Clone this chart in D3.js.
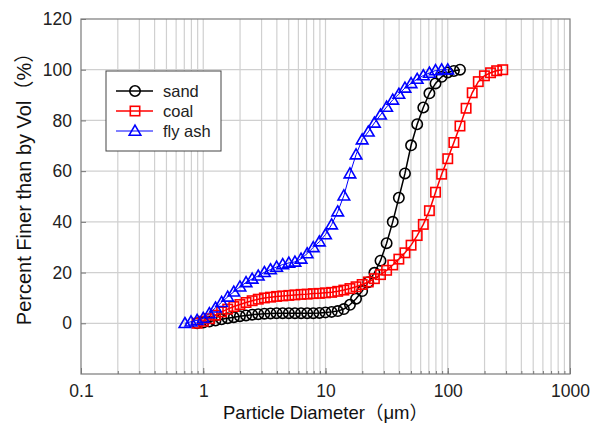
<!DOCTYPE html>
<html>
<head>
<meta charset="utf-8">
<script src="https://cdn.jsdelivr.net/npm/d3@7"></script>
<style>
  html, body { margin: 0; padding: 0; background: #fff; }
  svg { display: block; font-family: "Liberation Sans", Arial, "Noto Sans CJK SC", sans-serif; }
</style>
</head>
<body>
<div id="chart"></div>
<script>
// particle size distributions (cumulative % finer by volume)

const sandSize = [0.891, 1.000, 1.122, 1.259, 1.413, 1.585, 1.778, 1.995, 2.239, 2.512,
  2.818, 3.162, 3.548, 3.981, 4.467, 5.012, 5.623, 6.310, 7.079, 7.943,
  8.913, 10.00, 11.22, 12.59, 14.13, 15.85, 17.78, 19.95, 22.39, 25.12,
  28.18, 31.62, 35.48, 39.81, 44.67, 50.12, 56.23, 63.10, 70.79, 79.43,
  89.13, 100.0, 112.2, 125.9];
const sandPct = [0, 0.3, 0.7, 1.1, 1.6, 2.0, 2.4, 2.8, 3.1, 3.4,
  3.6, 3.8, 3.9, 4.0, 4.0, 4.0, 4.0, 4.0, 4.0, 4.0,
  4.1, 4.3, 4.5, 4.8, 5.6, 7.3, 9.7, 12.7, 16.2, 19.9,
  24.7, 31.6, 40.0, 49.5, 59.1, 70.2, 78.5, 85.1, 90.7, 94.6,
  97.2, 98.9, 99.5, 100];

const coalSize = [0.891, 1.000, 1.122, 1.259, 1.413, 1.585, 1.778, 1.995, 2.239, 2.512,
  2.818, 3.162, 3.548, 3.981, 4.467, 5.012, 5.623, 6.310, 7.079, 7.943,
  8.913, 10.00, 11.22, 12.59, 14.13, 15.85, 17.78, 19.95, 22.39, 25.12,
  28.18, 31.62, 35.48, 39.81, 44.67, 50.12, 56.23, 63.10, 70.79, 79.43,
  89.13, 100.0, 112.2, 125.9, 141.3, 158.5, 177.8, 199.5, 223.9, 251.2,
  281.8];
const coalPct = [0, 0.8, 1.8, 3.2, 4.5, 5.6, 6.6, 7.4, 8.2, 8.9,
  9.5, 10.0, 10.3, 10.6, 10.8, 11.0, 11.2, 11.4, 11.5, 11.7,
  11.8, 12.0, 12.2, 12.6, 13.1, 13.7, 14.4, 15.3, 16.3, 17.6,
  19.2, 20.9, 23.0, 25.3, 27.8, 30.8, 34.6, 39.0, 44.4, 51.7,
  58.8, 64.9, 71.3, 77.8, 84.8, 90.9, 95.3, 97.6, 98.8, 99.6,
  100];

const flySize = [0.708, 0.794, 0.891, 1.000, 1.122, 1.259, 1.413, 1.585, 1.778, 1.995,
  2.239, 2.512, 2.818, 3.162, 3.548, 3.981, 4.467, 5.012, 5.623, 6.310,
  7.079, 7.943, 8.913, 10.00, 11.22, 12.59, 14.13, 15.85, 17.78, 19.95,
  22.39, 25.12, 28.18, 31.62, 35.48, 39.81, 44.67, 50.12, 56.23, 63.10,
  70.79, 79.43, 89.13, 100.0];
const flyPct = [0.0, 0.6, 1.2, 2.0, 3.9, 6.1, 8.3, 10.4, 12.4, 14.4,
  16.1, 17.5, 18.7, 20.1, 21.2, 22.2, 23.2, 23.8, 24.2, 25.4,
  27.5, 29.9, 32.2, 35.0, 38.9, 44.0, 50.3, 59.0, 66.5, 72.4,
  75.5, 79.0, 82.2, 85.3, 88.1, 90.4, 92.8, 94.6, 96.3, 97.7,
  98.7, 99.7, 100, 100];

const xTicks = [0.1, 1, 10, 100, 1000];
const yTicks = [0, 20, 40, 60, 80, 100, 120];

const series = [
  { name: "sand", size: sandSize, pct: sandPct, color: "#000000", marker: "circle", lw: 1.5 },
  { name: "coal", size: coalSize, pct: coalPct, color: "#ff0000", marker: "square", lw: 1.5 },
  { name: "fly ash", size: flySize, pct: flyPct, color: "#0000ff", marker: "triangle", lw: 1 }
];

// setup dimensions
const width = 592;
const height = 430;
const margin = { top: 19, right: 22, bottom: 56, left: 81 };
const chartWidth = width - margin.left - margin.right;
const chartHeight = height - margin.top - margin.bottom;

const svg = d3.select("#chart").append("svg")
  .attr("width", width)
  .attr("height", height);

const chartG = svg.append("g")
  .attr("transform", `translate(${margin.left},${margin.top})`);

const x = d3.scaleLog().domain([0.1, 1000]).range([0, chartWidth]);
const y = d3.scaleLinear().domain([-20, 120]).range([chartHeight, 0]);

// minor decade values for the grid
const minorVals = [];
[0.1, 1, 10, 100].forEach(dec => {
  for (let k = 1; k < 10; k++) minorVals.push(dec * k);
});
minorVals.push(1000);

// gridlines
chartG.append("g").selectAll("line.vgrid")
  .data(minorVals.filter(v => v > 0.1 && v < 1000))
  .join("line")
  .attr("x1", d => x(d)).attr("x2", d => x(d))
  .attr("y1", 0).attr("y2", chartHeight)
  .attr("stroke", "#d0d0d0")
  .attr("stroke-width", 1.2);

chartG.append("g").selectAll("line.hgrid")
  .data(yTicks.filter(v => v < 120))
  .join("line")
  .attr("x1", 0).attr("x2", chartWidth)
  .attr("y1", d => y(d)).attr("y2", d => y(d))
  .attr("stroke", "#d0d0d0")
  .attr("stroke-width", 1.2);

// axes
const xAxisG = chartG.append("g")
  .attr("transform", `translate(0,${chartHeight})`)
  .call(d3.axisBottom(x).tickValues(xTicks).tickSize(-6).tickPadding(11)
    .tickFormat(d => d3.format("")(d)));

chartG.append("g")
  .attr("transform", `translate(0,${chartHeight})`)
  .call(d3.axisBottom(x).tickValues(minorVals).tickSize(-3).tickFormat(""))
  .call(g => g.select(".domain").remove());

const yAxisG = chartG.append("g")
  .call(d3.axisLeft(y).tickValues(yTicks).tickSize(-5).tickPadding(9));

[xAxisG, yAxisG].forEach(g => {
  g.select(".domain").remove();
  g.selectAll("text").attr("fill", "#222").style("font-size", "17.5px");
});
chartG.selectAll(".tick line").attr("stroke", "#777");

// frame
chartG.append("rect")
  .attr("width", chartWidth)
  .attr("height", chartHeight)
  .attr("fill", "none")
  .attr("stroke", "#7a7a7a")
  .attr("stroke-width", 1.2);

// marker drawing
function drawMarker(sel, type, color) {
  if (type === "circle") {
    sel.append("circle").attr("r", 5.2);
  } else if (type === "square") {
    sel.append("rect").attr("x", -4.7).attr("y", -4.7).attr("width", 9.4).attr("height", 9.4);
  } else {
    sel.append("path").attr("d", "M0,-5.8L5.8,4.2L-5.8,4.2Z");
  }
  sel.selectAll("circle,rect,path")
    .attr("fill", "none")
    .attr("stroke", color)
    .attr("stroke-width", 1.6);
}

const line = d3.line()
  .x(d => x(d[0]))
  .y(d => y(d[1]));

series.forEach(s => {
  const pts = s.size.map((v, i) => [v, s.pct[i]]);
  const g = chartG.append("g").attr("class", "series");
  g.append("path")
    .datum(pts)
    .attr("d", line)
    .attr("fill", "none")
    .attr("stroke", s.color)
    .attr("stroke-width", s.lw);
  g.selectAll("g.pt")
    .data(pts)
    .join("g")
    .attr("class", "pt")
    .attr("transform", d => `translate(${x(d[0])},${y(d[1])})`)
    .each(function () { drawMarker(d3.select(this), s.marker, s.color); });
});

// legend
const legend = svg.append("g").attr("transform", "translate(106,71)");
legend.append("rect")
  .attr("width", 115)
  .attr("height", 80)
  .attr("fill", "#fff")
  .attr("stroke", "#444")
  .attr("stroke-width", 1);

series.forEach((s, i) => {
  const row = legend.append("g").attr("transform", `translate(0,${20 + i * 20})`);
  row.append("line")
    .attr("x1", 10).attr("x2", 47)
    .attr("stroke", s.color)
    .attr("stroke-width", s.lw);
  const m = row.append("g").attr("transform", "translate(29,0)");
  drawMarker(m, s.marker, s.color);
  row.append("text")
    .attr("x", 57)
    .attr("y", 6)
    .attr("fill", "#222")
    .style("font-size", "16.5px")
    .text(s.name);
});

// axis titles
svg.append("text")
  .attr("x", margin.left + chartWidth / 2)
  .attr("y", 419)
  .attr("text-anchor", "middle")
  .attr("fill", "#111")
  .style("font-size", "18.5px")
  .text("Particle Diameter（μm）");

svg.append("text")
  .attr("transform", "translate(31,184) rotate(-90)")
  .attr("text-anchor", "middle")
  .attr("fill", "#111")
  .style("font-size", "20px")
  .text("Percent Finer than by Vol（%）");
</script>
</body>
</html>
